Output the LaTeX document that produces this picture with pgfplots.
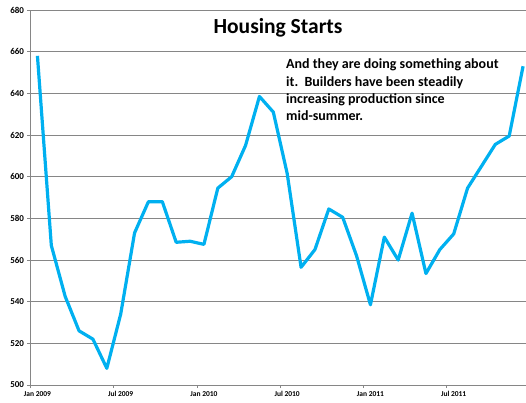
\documentclass[border=0pt]{standalone}
\usepackage{fontspec}
\setmainfont{Carlito}
\usepackage{pgfplots}
\pgfplotsset{compat=1.18}
\definecolor{linec}{RGB}{0,176,240}
\definecolor{gridc}{RGB}{134,134,134}
\begin{document}
\begin{tikzpicture}[x=1pt,y=1pt]
\useasboundingbox (0,0) rectangle (526,-403);
\begin{axis}[
  at={(30.5pt,-385pt)}, anchor=south west,
  scale only axis, width=499.5pt, height=375pt,
  xmin=0, xmax=36, ymin=500, ymax=680,
  ytick={500,520,...,680},
  xtick={0,6,12,18,24,30},
  xticklabels={Jan 2009,Jul 2009,Jan 2010,Jul 2010,Jan 2011,Jul 2011},
  xticklabel style={xshift=6.9pt, font=\fontsize{7.5}{7.5}\selectfont\bfseries},
  yticklabel style={font=\fontsize{9}{9}\selectfont\bfseries},
  /pgf/number format/assume math mode=true,
  ymajorgrids,
  major grid style={gridc, line width=0.8pt},
  axis x line*=bottom, axis y line*=left,
  axis line style={gridc, line width=0.8pt},
  tick align=outside, major tick length=3pt,
  tick style={gridc, line width=0.8pt},
]
\addplot[linec, line width=3.2pt, line join=round, mark=none] table[x=x,y=y] {
x y
0.5 658
1.5 567
2.5 542.5
3.5 526
4.5 522
5.5 508
6.5 534
7.5 573
8.5 588
9.5 588
10.5 568.5
11.5 569
12.5 567.5
13.5 594.5
14.5 600
15.5 615
16.5 638.5
17.5 631
18.5 601.5
19.5 556.5
20.5 565
21.5 584.5
22.5 580.5
23.5 562
24.5 538.5
25.5 571
26.5 560
27.5 582.5
28.5 553.5
29.5 565
30.5 572.5
31.5 594.5
32.5 605
33.5 615.5
34.5 619.5
35.5 653
};
\end{axis}
\node[anchor=base, font=\fontsize{21.5}{21.5}\selectfont\bfseries, inner sep=0] at (278,-33.3) {Housing Starts};
\begin{scope}[every node/.style={anchor=base west, inner sep=0, font=\fontsize{14}{14}\selectfont\bfseries}]
\node at (286,-68.8) {And they are doing something about};
\node at (286,-86.1) {it.\ \ Builders have been steadily};
\node at (286,-103.4) {increasing production since};
\node at (286,-120.7) {mid-summer.};
\end{scope}
\end{tikzpicture}
\end{document}
